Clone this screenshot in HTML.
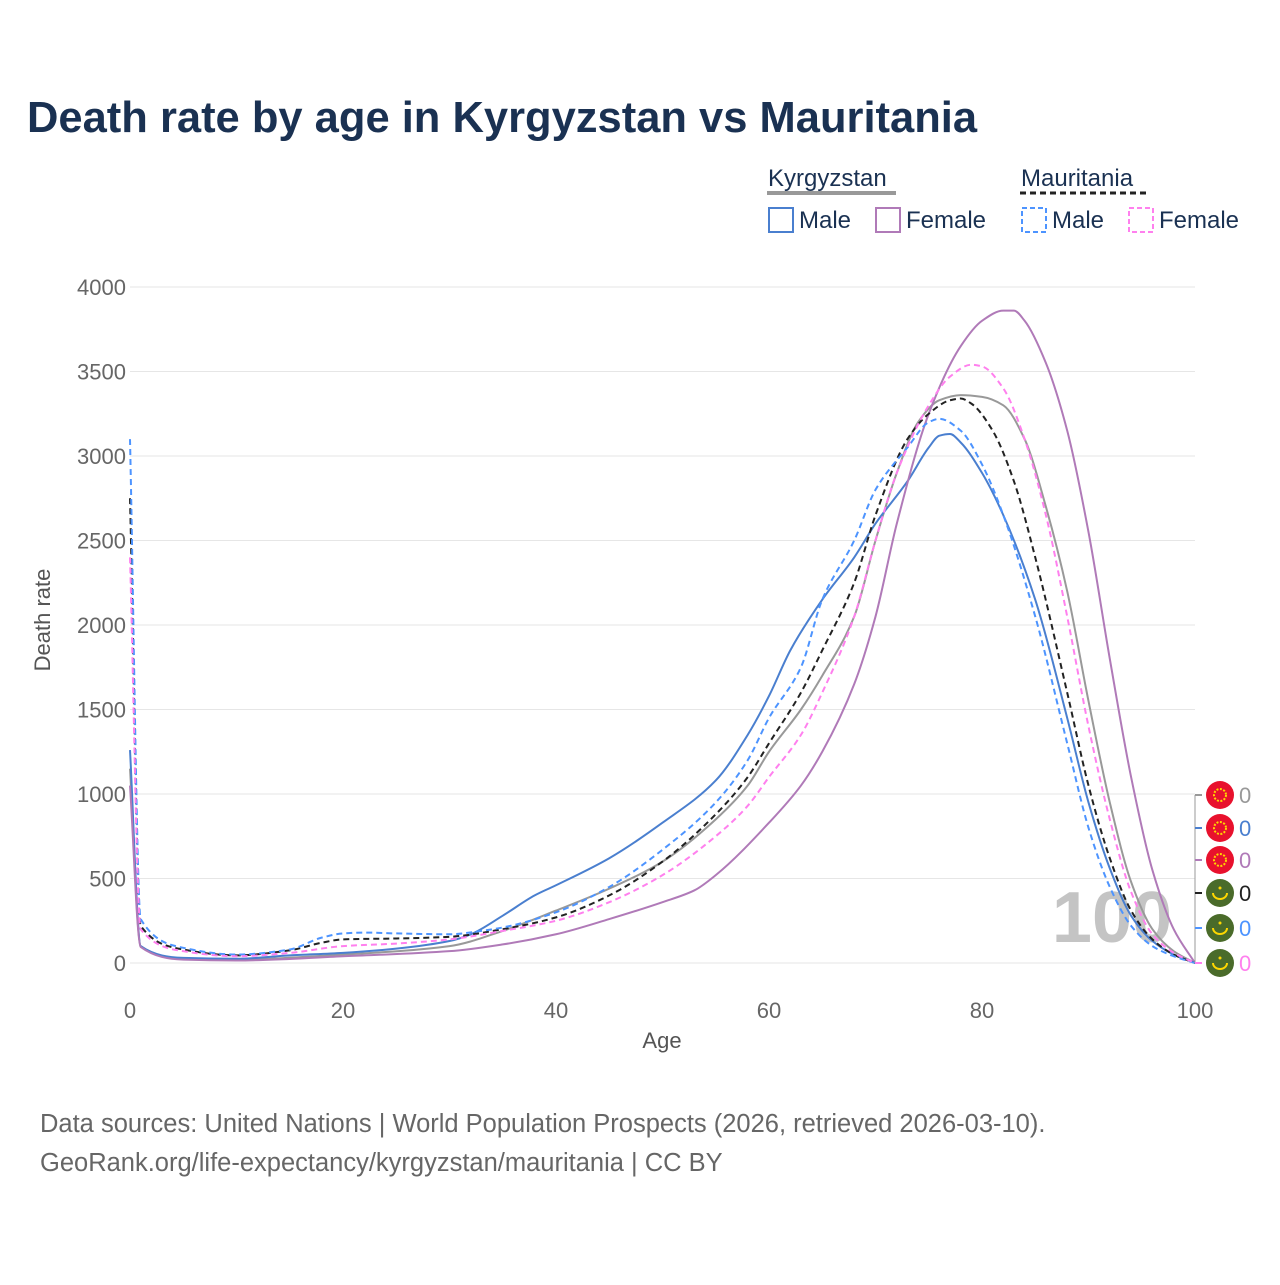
<!DOCTYPE html>
<html><head><meta charset="utf-8"><style>
body{margin:0;background:#fff;}
svg text{font-family:"Liberation Sans",sans-serif;}
</style></head><body>
<svg id="chart" width="1280" height="1280" xmlns="http://www.w3.org/2000/svg">
<rect width="1280" height="1280" fill="#fff"/>
<text x="27" y="132" font-size="43.5" font-weight="bold" fill="#1a3152">Death rate by age in Kyrgyzstan vs Mauritania</text>
<g>
<text x="768" y="186" font-size="24" fill="#1a3152">Kyrgyzstan</text>
<line x1="767" y1="193" x2="896" y2="193" stroke="#999" stroke-width="4"/>
<text x="1021" y="186" font-size="24" fill="#1a3152">Mauritania</text>
<line x1="1020" y1="193" x2="1147" y2="193" stroke="#222" stroke-width="3" stroke-dasharray="6,4"/>
<rect x="769" y="208" width="24" height="24" fill="none" stroke="#4a7fcf" stroke-width="2"/>
<text x="799" y="228" font-size="24" fill="#1a3152">Male</text>
<rect x="876" y="208" width="24" height="24" fill="none" stroke="#b07ab8" stroke-width="2"/>
<text x="906" y="228" font-size="24" fill="#1a3152">Female</text>
<rect x="1022" y="208" width="24" height="24" fill="none" stroke="#4d94ff" stroke-width="2" stroke-dasharray="5,3"/>
<text x="1052" y="228" font-size="24" fill="#1a3152">Male</text>
<rect x="1129" y="208" width="24" height="24" fill="none" stroke="#ff80ee" stroke-width="2" stroke-dasharray="5,3"/>
<text x="1159" y="228" font-size="24" fill="#1a3152">Female</text>
</g>
<g id="grid"></g>
<text x="1112" y="942" font-size="72" font-weight="bold" fill="#c4c4c4" text-anchor="middle">100</text>
<g id="series"></g>
<g id="endlabels"></g>
<text transform="translate(50,620) rotate(-90)" font-size="22" fill="#555" text-anchor="middle">Death rate</text>
<text x="662" y="1048" font-size="22" fill="#555" text-anchor="middle">Age</text>
<text x="40" y="1132" font-size="25.5" fill="#666">Data sources: United Nations | World Population Prospects (2026, retrieved 2026-03-10).</text>
<text x="40" y="1171" font-size="25.5" fill="#666">GeoRank.org/life-expectancy/kyrgyzstan/mauritania | CC BY</text>
</svg>
<script>
const yTicks=[0,500,1000,1500,2000,2500,3000,3500,4000];
const xTicks=[0,20,40,60,80,100];
const kgMaleAges=[0,1,5,10,15,20,25,30,32,35,38,40,45,50,55,58,60,62,65,68,70,73,75,76,77,78,80,82,85,88,90,92,94,96,98,100];
const kgMaleVals=[1260,100,30,25,45,60,85,130,170,280,400,460,620,830,1080,1350,1580,1850,2150,2400,2600,2850,3050,3120,3130,3080,2900,2650,2150,1450,950,560,280,130,50,0];
const kgFemaleAges=[0,1,5,10,20,30,35,40,45,50,53,55,60,63,65,68,70,72,75,78,80,82,83,84,86,88,90,92,94,96,98,100];
const kgFemaleVals=[1050,95,20,15,40,70,110,170,260,360,430,520,830,1050,1250,1650,2050,2600,3250,3650,3800,3860,3860,3800,3550,3150,2550,1800,1100,550,200,0];
const kgTotalAges=[0,1,5,10,20,30,35,40,45,50,55,58,60,63,65,68,70,72,74,76,78,80,82,84,86,88,90,92,94,96,98,100];
const kgTotalVals=[1150,100,25,20,50,100,190,310,440,600,850,1050,1250,1500,1700,2050,2500,2900,3200,3330,3360,3350,3300,3100,2700,2200,1550,950,480,200,70,0];
const mrMaleAges=[0,1,5,10,15,18,20,22,25,30,33,35,40,45,50,55,58,60,63,65,68,70,73,75,76,78,80,82,85,88,90,92,94,96,98,100];
const mrMaleVals=[3100,260,90,50,80,150,175,180,175,170,190,210,300,450,670,950,1200,1450,1750,2150,2500,2800,3050,3200,3220,3150,2950,2650,2050,1300,800,450,220,100,40,0];
const mrTotalAges=[0,1,5,10,15,18,20,25,30,35,40,45,50,55,58,60,63,65,68,70,73,75,77,78,79,81,83,85,88,90,92,94,96,98,100];
const mrTotalVals=[2750,220,80,45,75,120,140,145,155,200,270,400,600,880,1100,1300,1600,1850,2250,2650,3100,3250,3330,3340,3310,3150,2850,2400,1600,1050,620,310,140,50,0];
const mrFemaleAges=[0,1,5,10,15,20,25,30,35,40,45,50,55,58,60,63,65,68,70,72,75,77,79,80,82,84,86,88,90,92,94,96,98,100];
const mrFemaleVals=[2400,200,70,40,60,100,115,140,190,250,360,520,750,930,1100,1350,1600,2050,2500,2900,3300,3470,3540,3530,3400,3100,2650,2050,1400,850,420,170,60,0];
const finalVals=[0,0,0,0,0,0];

const X=a=>130+a*10.65, Y=v=>963-v*0.169;
const NS="http://www.w3.org/2000/svg";
function mk(t,at,p){const e=document.createElementNS(NS,t);for(const k in at)e.setAttribute(k,at[k]);p.appendChild(e);return e;}
const grid=document.getElementById('grid');
yTicks.forEach(v=>{
 const l=mk('line',{x1:130,x2:1195,y1:Y(v),y2:Y(v),stroke:'#e6e6e6','stroke-width':1},grid);
 
 
 const t=mk('text',{x:126,y:Y(v)+8,'font-size':22,fill:'#666','text-anchor':'end'},grid);t.textContent=v;
 
 
});
xTicks.forEach(a=>{
 const t=mk('text',{x:X(a),y:1018,'font-size':22,fill:'#666','text-anchor':'middle'},grid);t.textContent=a;
 
 
});
// monotone cubic (Fritsch-Carlson)
function path(ages,vals){
 const xs=ages.map(X), ys=vals.map(Y), n=xs.length;
 const d=[],m=new Array(n);
 for(let i=0;i<n-1;i++)d.push((ys[i+1]-ys[i])/(xs[i+1]-xs[i]));
 m[0]=d[0];m[n-1]=d[n-2];
 for(let i=1;i<n-1;i++){
  if(d[i-1]*d[i]<=0)m[i]=0;
  else{const w1=2*(xs[i+1]-xs[i])+(xs[i]-xs[i-1]),w2=(xs[i+1]-xs[i])+2*(xs[i]-xs[i-1]);m[i]=(w1+w2)/(w1/d[i-1]+w2/d[i]);}
 }
 let s='M'+xs[0]+','+ys[0];
 for(let i=0;i<n-1;i++){
  const h=(xs[i+1]-xs[i])/3;
  s+=` C${xs[i]+h},${ys[i]+m[i]*h} ${xs[i+1]-h},${ys[i+1]-m[i+1]*h} ${xs[i+1]},${ys[i+1]}`;
 }
 return s;
}
const ser=document.getElementById('series');
const defs=[
 [kgTotalAges,kgTotalVals,'#999','', 'line-kyrgyzstan-total'],
 [kgMaleAges,kgMaleVals,'#4a7fcf','', 'line-kyrgyzstan-male'],
 [kgFemaleAges,kgFemaleVals,'#b07ab8','', 'line-kyrgyzstan-female'],
 [mrTotalAges,mrTotalVals,'#222','6,4', 'line-mauritania-total'],
 [mrMaleAges,mrMaleVals,'#4d94ff','6,4', 'line-mauritania-male'],
 [mrFemaleAges,mrFemaleVals,'#ff80ee','6,4', 'line-mauritania-female']];
defs.forEach(s=>{
 const e=mk('path',{d:path(s[0],s[1]),fill:'none',stroke:s[2],'stroke-width':2,'stroke-dasharray':s[3]||'none'},ser);
 
 
});
const el=document.getElementById('endlabels');
mk('line',{x1:1195,x2:1195,y1:795,y2:963,stroke:'#999','stroke-width':1},el);
const cols=['#999','#4a7fcf','#b07ab8','#222','#4d94ff','#ff80ee'];
const ys=[795,828,860,893,928,963];
cols.forEach((c,i)=>{
 mk('line',{x1:1195,x2:1202,y1:ys[i],y2:ys[i],stroke:c,'stroke-width':2},el);
 const kg=i<3;
 const f=mk('circle',{cx:1220,cy:ys[i],r:14,fill:kg?'#e8112d':'#4a6b2a'},el);
 
 
 if(kg){mk('circle',{cx:1220,cy:ys[i],r:6,fill:'none',stroke:'#ffd700','stroke-width':2,'stroke-dasharray':'2,1.5'},el);}
 else{mk('path',{d:`M1213,${ys[i]} a7,6 0 0 0 14,0`,fill:'none',stroke:'#ffd700','stroke-width':2},el);mk('circle',{cx:1220,cy:ys[i]-5,r:1.5,fill:'#ffd700'},el);}
 const t=mk('text',{x:1239,y:ys[i]+8,'font-size':22,fill:c},el);t.textContent=finalVals[i];
 
 
});
</script>
</body></html>
